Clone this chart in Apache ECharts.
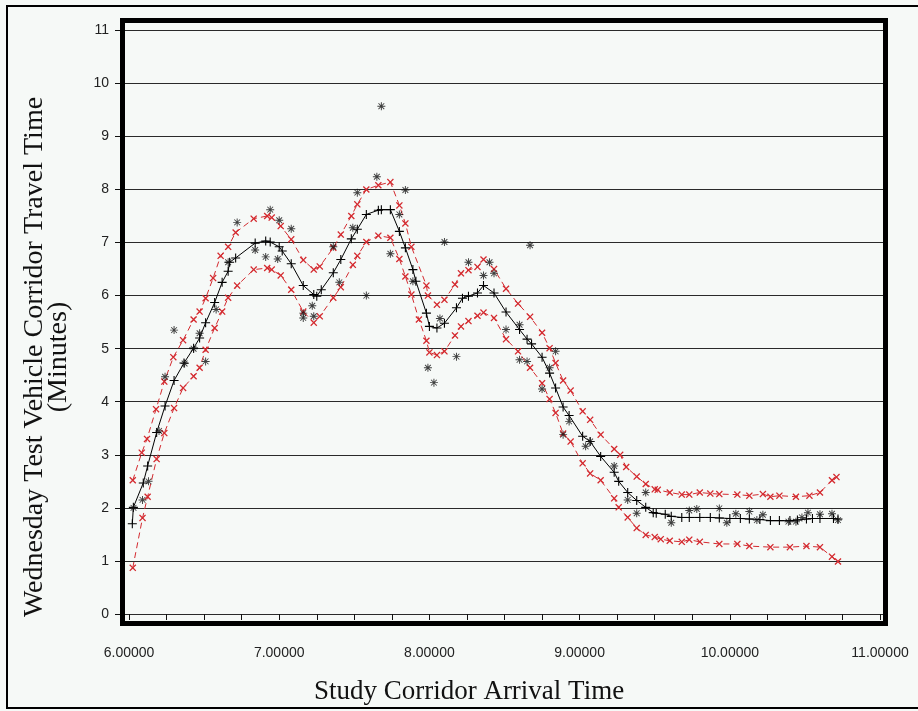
<!DOCTYPE html>
<html>
<head>
<meta charset="utf-8">
<script src="https://cdn.jsdelivr.net/npm/echarts@6/dist/echarts.min.js"></script>
<style>
html,body{margin:0;padding:0;background:#f6f9f7;}
#chart{width:918px;height:711px;}
</style>
</head>
<body>
<div id="chart"></div>
<script>
// ---- Data ----
const fitTime = [6.022,6.029,6.095,6.124,6.184,6.24,6.30,6.366,6.43,6.47,6.51,6.57,6.62,6.66,6.67,6.71,6.84,6.91,6.94,7.00,7.02,7.08,7.16,7.23,7.25,7.28,7.36,7.41,7.48,7.52,7.58,7.66,7.68,7.74,7.80,7.84,7.89,7.91,7.98,8.00,8.05,8.10,8.18,8.22,8.26,8.32,8.36,8.43,8.51,8.60,8.65,8.68,8.75,8.80,8.84,8.89,8.93,9.02,9.07,9.14,9.23,9.26,9.32,9.38,9.44,9.49,9.51,9.57,9.61,9.68,9.73,9.80,9.87,9.93,10.00,10.07,10.13,10.20,10.27,10.33,10.40,10.45,10.51,10.55,10.60,10.69,10.72];
const fitMin  = [1.70,2.01,2.47,2.79,3.42,3.92,4.40,4.73,5.01,5.20,5.49,5.87,6.25,6.46,6.63,6.71,6.99,7.03,7.01,6.92,6.84,6.60,6.19,6.02,5.99,6.11,6.43,6.68,7.07,7.25,7.53,7.61,7.62,7.62,7.21,6.90,6.49,6.27,5.67,5.42,5.39,5.48,5.77,5.95,5.99,6.05,6.19,6.05,5.69,5.36,5.18,5.09,4.84,4.54,4.26,3.90,3.74,3.35,3.25,2.97,2.67,2.50,2.29,2.14,2.01,1.91,1.90,1.88,1.84,1.82,1.82,1.82,1.82,1.81,1.80,1.80,1.79,1.78,1.76,1.76,1.76,1.77,1.79,1.80,1.80,1.80,1.79];

const upperTime = [6.025,6.085,6.12,6.18,6.235,6.295,6.36,6.43,6.47,6.51,6.56,6.61,6.66,6.71,6.83,6.92,6.95,7.01,7.08,7.16,7.23,7.27,7.36,7.41,7.48,7.52,7.58,7.66,7.74,7.80,7.84,7.88,7.98,7.99,8.05,8.10,8.17,8.21,8.26,8.32,8.36,8.43,8.51,8.59,8.67,8.75,8.80,8.84,8.89,8.94,9.02,9.07,9.14,9.23,9.27,9.31,9.38,9.44,9.50,9.52,9.60,9.68,9.73,9.80,9.87,9.93,10.05,10.13,10.22,10.27,10.33,10.44,10.53,10.60,10.68,10.71];
const upperMin  = [2.52,3.04,3.30,3.86,4.38,4.84,5.16,5.55,5.70,5.95,6.33,6.75,6.92,7.19,7.45,7.50,7.47,7.31,7.06,6.67,6.49,6.55,6.90,7.15,7.50,7.72,8.00,8.08,8.14,7.70,7.36,6.92,6.19,6.00,5.83,5.92,6.21,6.42,6.48,6.54,6.68,6.50,6.13,5.85,5.60,5.30,5.01,4.73,4.40,4.21,3.82,3.66,3.38,3.11,3.00,2.77,2.59,2.45,2.35,2.34,2.29,2.25,2.25,2.29,2.27,2.26,2.25,2.23,2.26,2.21,2.23,2.21,2.23,2.29,2.52,2.58];

const lowerTime = [6.025,6.09,6.124,6.184,6.235,6.30,6.36,6.43,6.47,6.51,6.57,6.62,6.66,6.72,6.83,6.92,6.95,7.01,7.08,7.16,7.23,7.27,7.36,7.41,7.49,7.52,7.58,7.66,7.74,7.80,7.84,7.88,7.93,7.98,8.00,8.05,8.10,8.17,8.21,8.26,8.32,8.36,8.43,8.51,8.59,8.67,8.75,8.80,8.84,8.89,8.94,9.02,9.07,9.14,9.23,9.26,9.32,9.38,9.44,9.50,9.54,9.60,9.68,9.73,9.80,9.93,10.05,10.13,10.27,10.40,10.51,10.60,10.68,10.72];
const lowerMin  = [0.87,1.81,2.21,2.92,3.41,3.88,4.26,4.48,4.64,4.98,5.39,5.70,5.96,6.19,6.49,6.52,6.49,6.38,6.11,5.70,5.49,5.61,5.96,6.16,6.58,6.75,7.01,7.13,7.09,6.69,6.36,6.02,5.55,5.15,4.93,4.88,4.95,5.25,5.42,5.52,5.62,5.68,5.58,5.18,4.95,4.64,4.35,4.05,3.79,3.40,3.25,2.84,2.65,2.52,2.18,2.01,1.82,1.62,1.49,1.45,1.41,1.38,1.36,1.40,1.36,1.32,1.32,1.28,1.26,1.26,1.28,1.26,1.08,0.99];

const obsTime = [6.03,6.09,6.13,6.20,6.24,6.30,6.37,6.43,6.47,6.51,6.58,6.66,6.72,6.84,6.91,6.94,6.99,7.00,7.08,7.16,7.16,7.22,7.23,7.36,7.40,7.49,7.52,7.58,7.65,7.68,7.74,7.80,7.84,7.89,7.99,8.03,8.07,8.10,8.18,8.26,8.36,8.40,8.43,8.51,8.60,8.60,8.65,8.67,8.75,8.80,8.84,8.89,8.93,9.04,9.07,9.23,9.32,9.38,9.44,9.61,9.73,9.78,9.93,9.98,10.04,10.13,10.18,10.22,10.39,10.44,10.48,10.52,10.60,10.68,10.72];
const obsMin  = [2.00,2.15,2.50,3.45,4.47,5.35,4.72,5.00,5.29,4.76,5.74,6.63,7.38,6.86,6.73,7.62,6.69,7.42,7.26,5.67,5.58,5.81,5.61,6.92,6.25,7.28,7.94,6.00,8.24,9.57,6.79,7.53,7.99,6.27,4.64,4.36,5.57,7.01,4.85,6.63,6.38,6.63,6.42,5.36,5.45,4.79,4.76,6.95,4.24,4.64,4.95,3.38,3.63,3.16,3.25,2.79,2.15,1.90,2.29,1.72,1.95,1.98,1.99,1.72,1.89,1.93,1.77,1.87,1.74,1.74,1.82,1.91,1.88,1.89,1.77];

const yTicks = [0,1,2,3,4,5,6,7,8,9,10,11];
const xLabelValues = [6,7,8,9,10,11];
const xTickValues = [6,6.25,6.5,6.75,7,7.25,7.5,7.75,8,8.25,8.5,8.75,9,9.25,9.5,9.75,10,10.25,10.5,10.75,11];

// ---- Marker shapes ----
const plusPath = 'path://M4.4,0H5.6V4.4H10V5.6H5.6V10H4.4V5.6H0V4.4H4.4Z';
const xPath = 'path://M0,1.3L1.3,0L5,3.7L8.7,0L10,1.3L6.3,5L10,8.7L8.7,10L5,6.3L1.3,10L0,8.7L3.7,5Z';
const starPath = 'path://M4.4,0H5.6V10H4.4Z M0,4.4H10V5.6H0Z M1,1.8L1.8,1L9,8.2L8.2,9Z M8.2,1L9,1.8L1.8,9L1,8.2Z';

const zip = (a, b) => a.map((v, i) => [v, b[i]]);
const red = '#d42a2f';

const chart = echarts.init(document.getElementById('chart'), null, {renderer: 'canvas'});
chart.setOption({
  animation: false,
  backgroundColor: '#f6f9f7',
  grid: {left: 123, right: 33, top: 30.3, bottom: 97, containLabel: false},
  xAxis: {
    type: 'value', min: 5.96, max: 11.033, offset: 13,
    axisLine: {show: false},
    axisTick: {show: true, length: 6, customValues: xTickValues, lineStyle: {color: '#111', width: 1}},
    axisLabel: {show: true, customValues: xLabelValues, margin: 19,
      formatter: v => v.toFixed(5),
      fontFamily: 'Liberation Sans', fontSize: 14, color: '#222'},
    splitLine: {show: false}
  },
  yAxis: {
    type: 'value', min: 0, max: 11, interval: 1, offset: 3,
    axisLine: {show: false},
    axisTick: {show: true, length: 5, lineStyle: {color: '#111'}},
    axisLabel: {margin: 11, fontFamily: 'Liberation Sans', fontSize: 14, color: '#222',
      formatter: v => yTicks.includes(v) ? String(v) : ''},
    splitLine: {show: true, lineStyle: {color: '#2a2a2a', width: 1.2}}
  },
  graphic: [
    {type: 'rect', z: 100, silent: true,
     shape: {x: 7, y: 6, width: 1000, height: 702},
     style: {fill: 'transparent', stroke: '#000', lineWidth: 2}},
    {type: 'rect', z: 100, silent: true,
     shape: {x: 122.5, y: 20.5, width: 763, height: 603},
     style: {fill: 'transparent', stroke: '#000', lineWidth: 5}},
    {type: 'text', z: 100, x: 469, y: 692, silent: true,
     style: {text: 'Study Corridor Arrival Time', fontFamily: 'Liberation Serif', fontSize: 27,
       fill: '#111', align: 'center', verticalAlign: 'middle'}},
    {type: 'text', z: 100, x: 47, y: 357, rotation: Math.PI / 2, silent: true,
     style: {text: 'Wednesday Test Vehicle Corridor Travel Time\n(Minutes)', fontFamily: 'Liberation Serif',
       fontSize: 28, lineHeight: 24, fill: '#111', align: 'center', verticalAlign: 'middle'}}
  ],
  series: [
    {name: 'Upper', type: 'line', data: zip(upperTime, upperMin), symbol: xPath, symbolSize: 7,
     lineStyle: {color: red, width: 1, type: [6, 4]}, itemStyle: {color: red}, z: 3},
    {name: 'Lower', type: 'line', data: zip(lowerTime, lowerMin), symbol: xPath, symbolSize: 7,
     lineStyle: {color: red, width: 1, type: [6, 4]}, itemStyle: {color: red}, z: 3},
    {name: 'Fit', type: 'line', data: zip(fitTime, fitMin), symbol: plusPath, symbolSize: 9,
     lineStyle: {color: '#000', width: 1}, itemStyle: {color: '#000'}, z: 4},
    {name: 'Observed', type: 'scatter', data: zip(obsTime, obsMin), symbol: starPath, symbolSize: 8,
     itemStyle: {color: '#111'}, z: 5}
  ]
});
</script>
</body>
</html>
